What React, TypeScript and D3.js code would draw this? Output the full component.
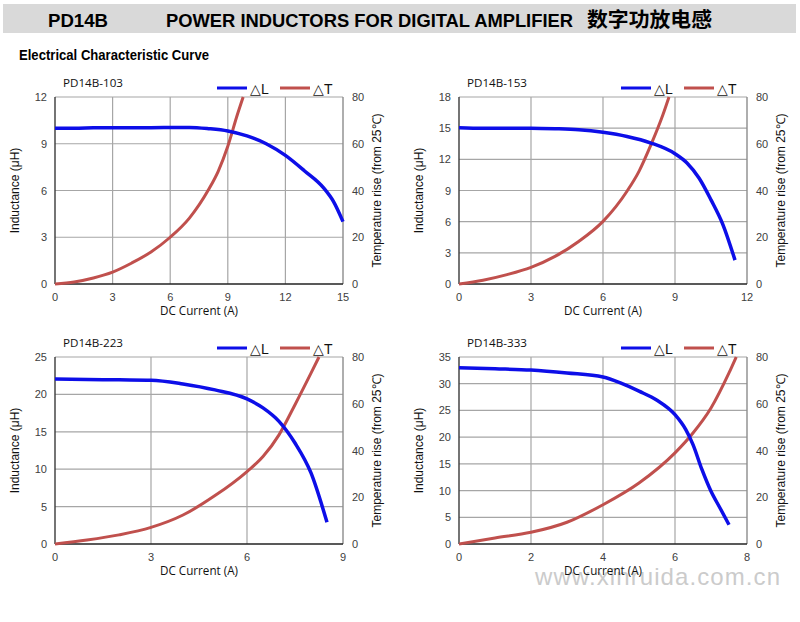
import React from "react";
import * as d3 from "d3";

// ---------- data ----------
const panelTitles = ["PD14B-103", "PD14B-153", "PD14B-223", "PD14B-333"];
const xMaxes = [15, 12, 9, 8];
const xSteps = [3, 3, 3, 2];
const lMaxes = [12, 18, 25, 35];
const lSteps = [3, 3, 5, 5];
const tempTicks = [0, 20, 40, 60, 80];

const lCurrent103 = [0, 1, 2, 3, 4, 5, 6, 7, 8, 9, 10, 11, 12, 13, 14, 14.5, 15];
const lValue103 = [10.0, 10.0, 10.02, 10.03, 10.03, 10.03, 10.04, 10.05, 9.97, 9.82, 9.5, 9.0, 8.25, 7.25, 6.15, 5.3, 4.0];
const tCurrent103 = [0, 1, 2, 3, 4, 5, 6, 7, 8, 8.5, 9, 9.5, 9.8];
const tValue103 = [0, 0.9, 2.6, 5.1, 9, 13.7, 20, 28.2, 40.4, 48.2, 58.9, 72.5, 80];

const lCurrent153 = [0, 1, 2, 3, 4, 5, 6, 7, 8, 9, 9.5, 10, 10.5, 11, 11.5];
const lValue153 = [15.05, 15.0, 15.0, 15.0, 14.95, 14.85, 14.6, 14.2, 13.57, 12.54, 11.65, 10.2, 8.1, 5.7, 2.3];
const tCurrent153 = [0, 1, 2, 3, 4, 5, 6, 7, 7.5, 8, 8.5, 8.75];
const tValue153 = [0, 1.6, 4, 7.1, 11.8, 18.3, 26.8, 39.7, 48.2, 59.6, 72.5, 80];

const lCurrent223 = [0, 1, 2, 3, 4, 5, 6, 6.5, 7, 7.5, 8, 8.5];
const lValue223 = [22.05, 22.0, 21.95, 21.9, 21.4, 20.6, 19.4, 18.2, 16.4, 13.5, 9.5, 2.9];
const tCurrent223 = [0, 1, 2, 3, 4, 5, 6, 6.5, 7, 7.5, 8, 8.25];
const tValue223 = [0, 1.7, 3.9, 7.1, 12.4, 20.7, 31, 37.4, 46.7, 59.6, 73.1, 80];

const lCurrent333 = [0, 1, 2, 3, 4, 4.5, 5, 5.5, 6, 6.3, 6.5, 6.75, 7, 7.25, 7.5];
const lValue333 = [33.0, 32.8, 32.56, 32.0, 31.25, 30.1, 28.6, 26.9, 24.2, 21.4, 18.6, 13.9, 9.86, 6.74, 3.6];
const tCurrent333 = [0, 1, 2, 3, 4, 5, 6, 6.5, 7, 7.5, 7.7];
const tValue333 = [0, 2.6, 5, 9.3, 16.8, 26.1, 39, 47.5, 58.2, 73.2, 80];

const lCurrents = [lCurrent103, lCurrent153, lCurrent223, lCurrent333];
const lValues = [lValue103, lValue153, lValue223, lValue333];
const tCurrents = [tCurrent103, tCurrent153, tCurrent223, tCurrent333];
const tValues = [tValue103, tValue153, tValue223, tValue333];

// ---------- layout ----------
const W = 800;
const H = 622;
const plotW = 288;
const plotH = 187;
const panelLefts = [55, 459, 55, 459];
const panelTops = [97, 97, 357, 357];

const BLUE = "#0d0ee8";
const RED = "#c0504d";
const GRID = "#a6a6a6";
const TICK = "#404040";
const SANS = "'Liberation Sans', Arial, sans-serif";
const NARROW = "'Open Sans', 'Liberation Sans', sans-serif";

function Panel({ i }: { i: number }) {
  const left = panelLefts[i];
  const top = panelTops[i];
  const x = d3.scaleLinear().domain([0, xMaxes[i]]).range([left, left + plotW]);
  const yL = d3.scaleLinear().domain([0, lMaxes[i]]).range([top + plotH, top]);
  const yT = d3.scaleLinear().domain([0, 80]).range([top + plotH, top]);
  const xTicks = d3.range(0, xMaxes[i] + 1e-9, xSteps[i]);
  const lTicks = d3.range(0, lMaxes[i] + 1e-9, lSteps[i]);

  const lineL = d3
    .line<number>()
    .x((_, k) => x(lCurrents[i][k]))
    .y((d) => yL(d))
    .curve(d3.curveMonotoneX);
  const lineT = d3
    .line<number>()
    .x((_, k) => x(tCurrents[i][k]))
    .y((d) => yT(d))
    .curve(d3.curveMonotoneX);

  const right = left + plotW;
  const bottom = top + plotH;
  const clipId = `clip${i}`;
  const legY = top - 9;

  return (
    <g>
      <defs>
        <clipPath id={clipId}>
          <rect x={left} y={top - 2} width={plotW + 2} height={plotH + 4} />
        </clipPath>
      </defs>
      {/* grid */}
      {xTicks.slice(1, -1).map((t) => (
        <line key={"gx" + t} x1={x(t)} x2={x(t)} y1={top} y2={bottom} stroke={GRID} strokeWidth={1.2} />
      ))}
      {lTicks.slice(1).map((t) => (
        <line key={"gy" + t} x1={left} x2={right} y1={yL(t)} y2={yL(t)} stroke={GRID} strokeWidth={1.2} />
      ))}
      {/* axes */}
      <line x1={right} x2={right} y1={top} y2={bottom} stroke="#8c8c8c" strokeWidth={1.4} />
      <line x1={left} x2={left} y1={top} y2={bottom} stroke="#3a3a3a" strokeWidth={1.4} />
      <line x1={left} x2={right} y1={bottom} y2={bottom} stroke="#222" strokeWidth={1.4} />
      {/* tick labels */}
      {lTicks.map((t) => (
        <text key={"tl" + t} x={left - 8} y={yL(t) + 4} textAnchor="end" fontSize={11} fill={TICK} fontFamily={SANS}>
          {t}
        </text>
      ))}
      {tempTicks.map((t) => (
        <text key={"tr" + t} x={right + 9} y={yT(t) + 4} textAnchor="start" fontSize={11} fill={TICK} fontFamily={SANS}>
          {t}
        </text>
      ))}
      {xTicks.map((t) => (
        <text key={"tx" + t} x={x(t)} y={bottom + 17} textAnchor="middle" fontSize={11} fill={TICK} fontFamily={SANS}>
          {t}
        </text>
      ))}
      {/* axis titles */}
      <text
        transform={`translate(${left - 36},${(top + bottom) / 2}) rotate(-90)`}
        textAnchor="middle"
        fontSize={12}
        fill="#111"
        fontFamily={SANS}
      >
        Inductance (μH)
      </text>
      <text
        transform={`translate(${right + 38},${(top + bottom) / 2}) rotate(-90)`}
        textAnchor="middle"
        fontSize={12}
        fill="#111"
        fontFamily={SANS}
      >
        Temperature rise (from 25℃)
      </text>
      {/* curves */}
      <g clipPath={`url(#${clipId})`}>
        <path d={lineT(tValues[i]) || ""} fill="none" stroke={RED} strokeWidth={3} />
        <path d={lineL(lValues[i]) || ""} fill="none" stroke={BLUE} strokeWidth={3.5} />
      </g>
      {/* chart title */}
      <text x={left + 8} y={top - 10} fontSize={11.5} fill="#111" fontFamily={NARROW} textLength={60} lengthAdjust="spacingAndGlyphs">
        {panelTitles[i]}
      </text>
      {/* legend */}
      <line x1={right - 126} x2={right - 96} y1={legY} y2={legY} stroke={BLUE} strokeWidth={3} />
      <text x={right - 93} y={legY + 6} fontSize={14} fill="#111" fontFamily={SANS}>
        △L
      </text>
      <line x1={right - 63} x2={right - 33} y1={legY} y2={legY} stroke={RED} strokeWidth={3} />
      <text x={right - 30} y={legY + 6} fontSize={14} fill="#111" fontFamily={SANS}>
        △T
      </text>
    </g>
  );
}

function XLabel({ i }: { i: number }) {
  const left = panelLefts[i];
  const top = panelTops[i];
  return (
    <text
      x={left + plotW / 2}
      y={top + plotH + 31}
      textAnchor="middle"
      fontSize={12}
      fill="#111"
      fontFamily={NARROW}
      textLength={78}
      lengthAdjust="spacingAndGlyphs"
    >
      DC Current (A)
    </text>
  );
}

export default function App() {
  return (
    <svg width={W} height={H} style={{ position: "absolute", left: 0, top: 0, background: "#fff" }}>
      <rect x={0} y={0} width={W} height={H} fill="#fff" />
      {/* header */}
      <rect x={3} y={4} width={793} height={29} fill="#d9d9d9" />
      <text x={48} y={27} fontSize={18} fontWeight="bold" fill="#000" fontFamily={SANS} textLength={60} lengthAdjust="spacingAndGlyphs">
        PD14B
      </text>
      <text x={166} y={27} fontSize={18} fontWeight="bold" fill="#000" fontFamily={SANS} textLength={407} lengthAdjust="spacingAndGlyphs">
        POWER INDUCTORS FOR DIGITAL AMPLIFIER
      </text>
      <text
        x={587}
        y={27}
        fontSize={20}
        fontWeight="bold"
        fill="#000"
        fontFamily="'Noto Sans CJK SC', sans-serif"
        textLength={125}
        lengthAdjust="spacingAndGlyphs"
      >
        数字功放电感
      </text>
      <text x={19} y={60} fontSize={15} fontWeight="bold" fill="#000" fontFamily={SANS} textLength={190} lengthAdjust="spacingAndGlyphs">
        Electrical Characteristic Curve
      </text>
      {[0, 1, 2, 3].map((i) => (
        <Panel key={i} i={i} />
      ))}
      {/* watermark */}
      <text
        x={535}
        y={585}
        fontSize={24}
        fill="#cbcbcb"
        fontFamily={SANS}
        textLength={245}
        lengthAdjust="spacing"
      >
        www.xinruida.com.cn
      </text>
      {[0, 1, 2, 3].map((i) => (
        <XLabel key={"xl" + i} i={i} />
      ))}
    </svg>
  );
}
